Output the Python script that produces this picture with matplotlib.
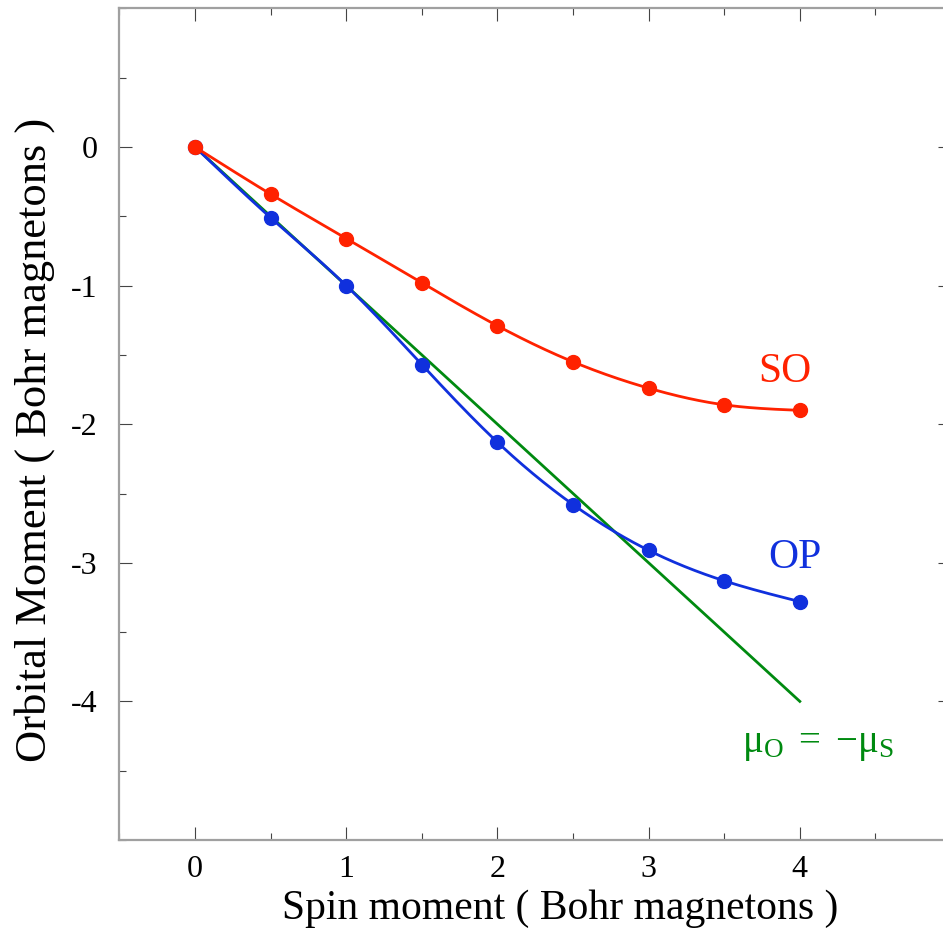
import numpy as np
import matplotlib
matplotlib.use("Agg")
import matplotlib.pyplot as plt
from matplotlib.ticker import MultipleLocator, FixedLocator

plt.rcParams['font.family'] = ['Liberation Serif', 'DejaVu Serif']
plt.rcParams['mathtext.fontset'] = 'custom'
plt.rcParams['mathtext.rm'] = 'Liberation Serif'
plt.rcParams['mathtext.it'] = 'Liberation Serif:italic'
plt.rcParams['axes.unicode_minus'] = False

spin = [0, 0.5, 1, 1.5, 2, 2.5, 3, 3.5, 4]
so_orbital = [0, -0.34, -0.66, -0.98, -1.29, -1.55, -1.74, -1.86, -1.90]
op_orbital = [0, -0.51, -1.00, -1.57, -2.13, -2.58, -2.91, -3.13, -3.28]
ref_spin = [0, 4]
ref_orbital = [0, -4]
x_ticks = [0, 1, 2, 3, 4]
y_ticks = [0, -1, -2, -3, -4]

RED = '#FF2200'
BLUE = '#1030DD'
GREEN = '#008A10'


def natural_spline(x, y, n=300):
    x = np.asarray(x, float)
    y = np.asarray(y, float)
    m = len(x)
    h = np.diff(x)
    A = np.zeros((m, m))
    b = np.zeros(m)
    A[0, 0] = A[-1, -1] = 1
    for i in range(1, m - 1):
        A[i, i - 1] = h[i - 1]
        A[i, i] = 2 * (h[i - 1] + h[i])
        A[i, i + 1] = h[i]
        b[i] = 6 * ((y[i + 1] - y[i]) / h[i] - (y[i] - y[i - 1]) / h[i - 1])
    M = np.linalg.solve(A, b)
    xs = np.linspace(x[0], x[-1], n)
    idx = np.clip(np.searchsorted(x, xs) - 1, 0, m - 2)
    x0, x1 = x[idx], x[idx + 1]
    hh = x1 - x0
    t0 = x1 - xs
    t1 = xs - x0
    ys = (M[idx] * t0 ** 3 / (6 * hh) + M[idx + 1] * t1 ** 3 / (6 * hh)
          + (y[idx] / hh - M[idx] * hh / 6) * t0
          + (y[idx + 1] / hh - M[idx + 1] * hh / 6) * t1)
    return xs, ys


fig = plt.figure(figsize=(9.43, 9.38), dpi=100)
ax = fig.add_axes([0.1267, 0.1045, 0.8818, 0.8865])

ax.plot(ref_spin, ref_orbital, color=GREEN, lw=2.0, zorder=2)
xs, ys = natural_spline(spin, op_orbital)
ax.plot(xs, ys, color=BLUE, lw=2.0, zorder=3)
ax.plot(spin, op_orbital, 'o', color=BLUE, ms=10, zorder=4)
xs, ys = natural_spline(spin, so_orbital)
ax.plot(xs, ys, color=RED, lw=2.0, zorder=3)
ax.plot(spin, so_orbital, 'o', color=RED, ms=10, zorder=5)

ax.text(3.90, -1.62, 'SO', color=RED, fontsize=30, ha='center', va='center')
ax.text(3.97, -2.96, 'OP', color=BLUE, fontsize=30, ha='center', va='center')
ax.text(4.12, -4.31, r'$\mathrm{\mu_O}\ =\ {-}\mathrm{\mu_S}$', color=GREEN,
        fontsize=28, ha='center', va='center')

ax.set_xlim(-0.5, 5)
ax.set_ylim(-5, 1)
ax.xaxis.set_major_locator(FixedLocator(x_ticks))
ax.yaxis.set_major_locator(FixedLocator(y_ticks))
ax.xaxis.set_minor_locator(MultipleLocator(0.5))
ax.yaxis.set_minor_locator(MultipleLocator(0.5))
ax.set_xticklabels([str(v) for v in x_ticks])
ax.set_yticklabels([str(v) for v in y_ticks])

ax.tick_params(which='both', direction='in', top=True, right=True,
               color='#444444', width=0.8, labelsize=23)
ax.tick_params(axis='y', which='major', pad=16)
ax.tick_params(axis='x', which='major', pad=11)
ax.tick_params(which='major', length=9.5)
ax.tick_params(which='minor', length=5)
for s in ax.spines.values():
    s.set_color('#A0A0A0')
    s.set_linewidth(1.6)

ax_w = 951 - 119.5
ax_h = 840 - 8.5
ax.set_xlabel('Spin moment ( Bohr magnetons )', fontsize=30)
ax.xaxis.set_label_coords((560 - 119.5) / ax_w, -(889 - 840) / ax_h)
ax.set_ylabel('Orbital Moment ( Bohr magnetons )', fontsize=32)
ax.yaxis.set_label_coords(-(119.5 - 55) / ax_w, (840 - 440) / ax_h)

fig.savefig('out.png', dpi=100)
